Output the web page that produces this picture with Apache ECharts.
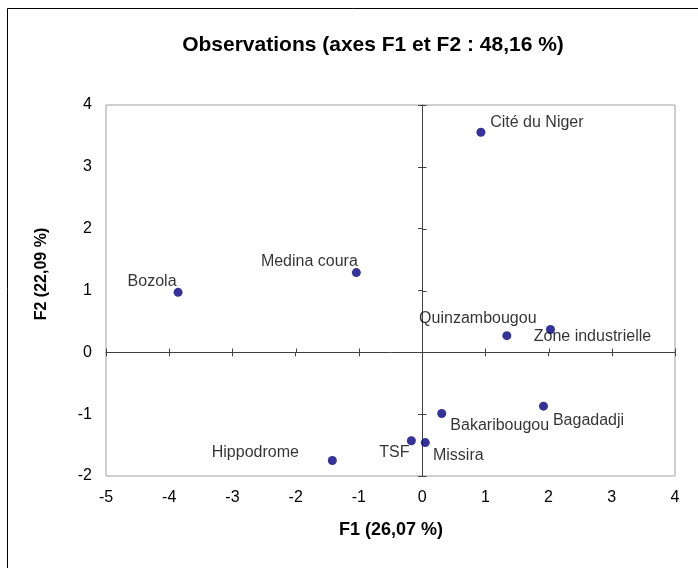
<!DOCTYPE html>
<html>
<head>
<meta charset="utf-8">
<script src="https://cdn.jsdelivr.net/npm/echarts@6/dist/echarts.min.js"></script>
<style>html,body{margin:0;padding:0;background:#fff}#c{width:698px;height:568px}</style>
</head>
<body>
<div id="c"></div>
<script>
var names = ['Cité du Niger','Quinzambougou','Zone industrielle','Bakaribougou','Bagadadji','TSF','Missira','Hippodrome','Bozola','Medina coura'];
var f1 = [0.93, 1.34, 2.03, 0.31, 1.92, -0.17, 0.05, -1.42, -3.86, -1.04];
var f2 = [3.56, 0.27, 0.37, -0.99, -0.87, -1.43, -1.46, -1.75, 0.97, 1.29];
var xTicks = {min: -5, max: 4, interval: 1};
var yTicks = {min: -2, max: 4, interval: 1};
var xTickValues = [-5, -4, -3, -2, -1, 0, 1, 2, 3, 4];
var yTickValues = [-2, -1, 0, 1, 2, 3, 4];
var titleText = 'Observations (axes F1 et F2 : 48,16 %)';
var xName = 'F1 (26,07 %)';
var yName = 'F2 (22,09 %)';

// label placement (layout only)
var labelOffsets = [
  [56, -10],  // Cité du Niger
  [-29, -17], // Quinzambougou
  [42, 7],    // Zone industrielle
  [58, 12],   // Bakaribougou
  [45, 14],   // Bagadadji
  [-17, 12],  // TSF
  [33, 13],   // Missira
  [-77, -8],  // Hippodrome
  [-26, -11], // Bozola
  [-47, -11]  // Medina coura
];

var FONT = '"Liberation Sans", Arial, sans-serif';
var AXIS_COLOR = '#404040';
var data = names.map(function (n, i) {
  return {name: n, value: [f1[i], f2[i]]};
});
// complementary tick half (up on x zero-line, right on y zero-line)
var tickData = xTickValues.map(function (v) { return [v, 0, 0]; })
  .concat(yTickValues.map(function (v) { return [0, v, 1]; }));

function zeroAxis(t, pos) {
  return {
    type: 'value', min: t.min, max: t.max, interval: t.interval, position: pos,
    axisLine: {show: true, onZero: true, onZeroAxisIndex: 0, lineStyle: {color: AXIS_COLOR, width: 1}},
    axisTick: {show: true, inside: false, length: 4, lineStyle: {color: AXIS_COLOR}},
    axisLabel: {show: false},
    splitLine: {show: false}
  };
}

var chart = echarts.init(document.getElementById('c'), null, {renderer: 'canvas'});
chart.setOption({
  animation: false,
  backgroundColor: '#fff',
  textStyle: {fontFamily: FONT},
  grid: {left: 106, right: 23, top: 105, bottom: 92, show: true, borderColor: '#a0a0a0', borderWidth: 1},
  xAxis: [
    {
      type: 'value', min: xTicks.min, max: xTicks.max, interval: xTicks.interval, position: 'bottom',
      axisLine: {show: false, onZero: false}, axisTick: {show: false}, splitLine: {show: false},
      axisLabel: {fontSize: 16, color: '#000', margin: 14, fontFamily: FONT}
    },
    zeroAxis(xTicks, 'bottom')
  ],
  yAxis: [
    {
      type: 'value', min: yTicks.min, max: yTicks.max, interval: yTicks.interval, position: 'left',
      axisLine: {show: false, onZero: false}, axisTick: {show: false}, splitLine: {show: false},
      axisLabel: {fontSize: 16, color: '#000', margin: 14, fontFamily: FONT}
    },
    zeroAxis(yTicks, 'left')
  ],
  graphic: [
    {type: 'rect', shape: {x: 7.5, y: 8.5, width: 900, height: 900}, style: {fill: null, stroke: '#000', lineWidth: 1}, silent: true},
    {type: 'text', x: 373, y: 45, style: {text: titleText, font: 'bold 21px ' + FONT, fill: '#000', align: 'center', verticalAlign: 'middle'}},
    {type: 'text', x: 391, y: 530, style: {text: xName, font: 'bold 18px ' + FONT, fill: '#000', align: 'center', verticalAlign: 'middle'}},
    {type: 'text', x: 42, y: 274, rotation: Math.PI / 2, style: {text: yName, font: 'bold 16px ' + FONT, fill: '#000', align: 'center', verticalAlign: 'middle'}}
  ],
  series: [{
    type: 'custom',
    xAxisIndex: 0, yAxisIndex: 0,
    silent: true,
    clip: false,
    data: tickData,
    renderItem: function (params, api) {
      var p = api.coord([api.value(0), api.value(1)]);
      var x = Math.round(p[0]) + 0.5, y = Math.round(p[1]) + 0.5;
      var shape = api.value(2) === 0
        ? {x1: x, y1: y, x2: x, y2: y - 4}
        : {x1: x, y1: y, x2: x + 4, y2: y};
      return {type: 'line', shape: shape, style: {stroke: AXIS_COLOR, lineWidth: 1}};
    }
  }, {
    type: 'scatter',
    xAxisIndex: 0, yAxisIndex: 0,
    symbol: 'circle', symbolSize: 9,
    itemStyle: {color: '#000080'},
    label: {show: true, position: 'inside', formatter: '{b}', fontSize: 16, color: '#000', fontFamily: FONT, align: 'center', verticalAlign: 'middle'},
    labelLayout: function (p) {
      var o = labelOffsets[p.dataIndex];
      return {dx: o[0], dy: o[1], hideOverlap: false};
    },
    data: data
  }]
});
</script>
</body>
</html>
